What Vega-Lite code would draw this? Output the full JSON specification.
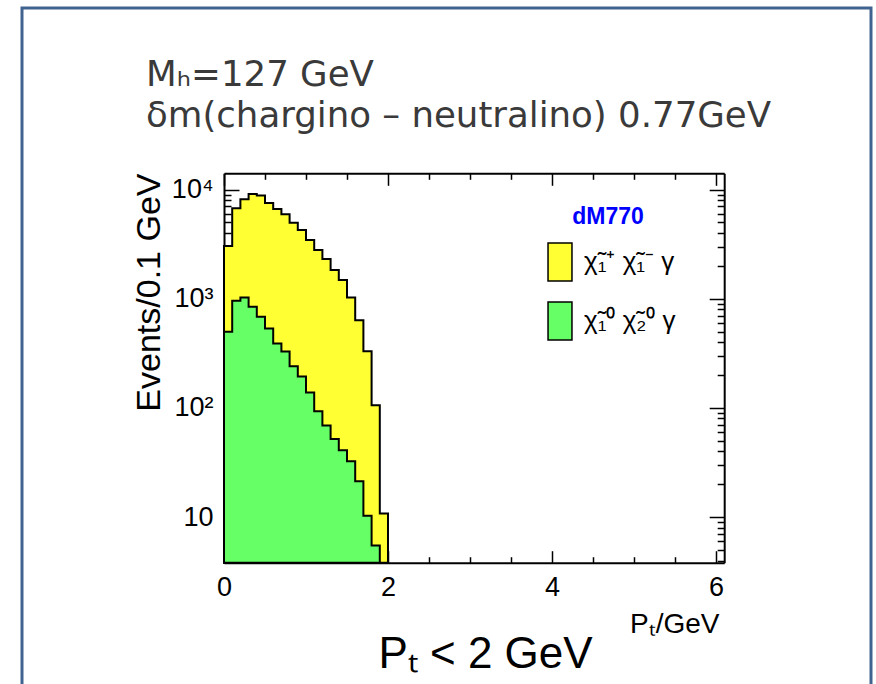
{
  "$schema": "https://vega.github.io/schema/vega-lite/v6.json",
  "width": 849,
  "height": 678,
  "autosize": "none",
  "padding": {"left": 22, "top": 8, "right": 5, "bottom": 0},
  "background": "white",
  "config": {
    "view": {"stroke": "#41638f", "strokeWidth": 3, "fill": "white"},
    "font": "Liberation Sans",
    "axis": {"grid": false, "labelFlush": false, "labelOverlap": false, "zindex": 1, "tickColor": "black", "tickWidth": 1.5, "domainColor": "black", "domainWidth": 2, "labelColor": "black", "titleColor": "black", "labelFont": "Liberation Sans", "titleFont": "Liberation Sans", "titleFontWeight": "normal", "labelFontSize": 27}
  },
  "title": {
    "text": ["Mₕ=127 GeV", "δm(chargino – neutralino) 0.77GeV"],
    "anchor": "start", "frame": "group", "orient": "top",
    "dx": 124, "offset": -155, "baseline": "alphabetic",
    "font": "DejaVu Sans", "fontSize": 35.6, "fontWeight": "normal", "color": "#3a3a3a", "lineHeight": 41
  },
  "datasets": {
    "hist": [
      {"s": "c", "proc": "χ̃₁⁺ χ̃₁⁻ γ", "lo": 0.0, "hi": 0.1, "v": 3034},
      {"s": "c", "proc": "χ̃₁⁺ χ̃₁⁻ γ", "lo": 0.1, "hi": 0.2, "v": 6723},
      {"s": "c", "proc": "χ̃₁⁺ χ̃₁⁻ γ", "lo": 0.2, "hi": 0.3, "v": 8130},
      {"s": "c", "proc": "χ̃₁⁺ χ̃₁⁻ γ", "lo": 0.3, "hi": 0.4, "v": 9093},
      {"s": "c", "proc": "χ̃₁⁺ χ̃₁⁻ γ", "lo": 0.4, "hi": 0.5, "v": 8810},
      {"s": "c", "proc": "χ̃₁⁺ χ̃₁⁻ γ", "lo": 0.5, "hi": 0.6, "v": 7520},
      {"s": "c", "proc": "χ̃₁⁺ χ̃₁⁻ γ", "lo": 0.6, "hi": 0.7, "v": 6625},
      {"s": "c", "proc": "χ̃₁⁺ χ̃₁⁻ γ", "lo": 0.7, "hi": 0.8, "v": 5925},
      {"s": "c", "proc": "χ̃₁⁺ χ̃₁⁻ γ", "lo": 0.8, "hi": 0.9, "v": 4962},
      {"s": "c", "proc": "χ̃₁⁺ χ̃₁⁻ γ", "lo": 0.9, "hi": 1.0, "v": 4253},
      {"s": "c", "proc": "χ̃₁⁺ χ̃₁⁻ γ", "lo": 1.0, "hi": 1.1, "v": 3443},
      {"s": "c", "proc": "χ̃₁⁺ χ̃₁⁻ γ", "lo": 1.1, "hi": 1.2, "v": 2788},
      {"s": "c", "proc": "χ̃₁⁺ χ̃₁⁻ γ", "lo": 1.2, "hi": 1.3, "v": 2306},
      {"s": "c", "proc": "χ̃₁⁺ χ̃₁⁻ γ", "lo": 1.3, "hi": 1.4, "v": 1828},
      {"s": "c", "proc": "χ̃₁⁺ χ̃₁⁻ γ", "lo": 1.4, "hi": 1.5, "v": 1480},
      {"s": "c", "proc": "χ̃₁⁺ χ̃₁⁻ γ", "lo": 1.5, "hi": 1.6, "v": 1027},
      {"s": "c", "proc": "χ̃₁⁺ χ̃₁⁻ γ", "lo": 1.6, "hi": 1.7, "v": 636},
      {"s": "c", "proc": "χ̃₁⁺ χ̃₁⁻ γ", "lo": 1.7, "hi": 1.8, "v": 331},
      {"s": "c", "proc": "χ̃₁⁺ χ̃₁⁻ γ", "lo": 1.8, "hi": 1.9, "v": 106},
      {"s": "c", "proc": "χ̃₁⁺ χ̃₁⁻ γ", "lo": 1.9, "hi": 2.0, "v": 10.8},
      {"s": "n", "proc": "χ̃₁⁰ χ̃₂⁰ γ", "lo": 0.0, "hi": 0.1, "v": 497},
      {"s": "n", "proc": "χ̃₁⁰ χ̃₂⁰ γ", "lo": 0.1, "hi": 0.2, "v": 956},
      {"s": "n", "proc": "χ̃₁⁰ χ̃₂⁰ γ", "lo": 0.2, "hi": 0.3, "v": 1027},
      {"s": "n", "proc": "χ̃₁⁰ χ̃₂⁰ γ", "lo": 0.3, "hi": 0.4, "v": 846},
      {"s": "n", "proc": "χ̃₁⁰ χ̃₂⁰ γ", "lo": 0.4, "hi": 0.5, "v": 682},
      {"s": "n", "proc": "χ̃₁⁰ χ̃₂⁰ γ", "lo": 0.5, "hi": 0.6, "v": 534},
      {"s": "n", "proc": "χ̃₁⁰ χ̃₂⁰ γ", "lo": 0.6, "hi": 0.7, "v": 389},
      {"s": "n", "proc": "χ̃₁⁰ χ̃₂⁰ γ", "lo": 0.7, "hi": 0.8, "v": 329},
      {"s": "n", "proc": "χ̃₁⁰ χ̃₂⁰ γ", "lo": 0.8, "hi": 0.9, "v": 241},
      {"s": "n", "proc": "χ̃₁⁰ χ̃₂⁰ γ", "lo": 0.9, "hi": 1.0, "v": 194},
      {"s": "n", "proc": "χ̃₁⁰ χ̃₂⁰ γ", "lo": 1.0, "hi": 1.1, "v": 138},
      {"s": "n", "proc": "χ̃₁⁰ χ̃₂⁰ γ", "lo": 1.1, "hi": 1.2, "v": 93},
      {"s": "n", "proc": "χ̃₁⁰ χ̃₂⁰ γ", "lo": 1.2, "hi": 1.3, "v": 69},
      {"s": "n", "proc": "χ̃₁⁰ χ̃₂⁰ γ", "lo": 1.3, "hi": 1.4, "v": 52},
      {"s": "n", "proc": "χ̃₁⁰ χ̃₂⁰ γ", "lo": 1.4, "hi": 1.5, "v": 41},
      {"s": "n", "proc": "χ̃₁⁰ χ̃₂⁰ γ", "lo": 1.5, "hi": 1.6, "v": 32.4},
      {"s": "n", "proc": "χ̃₁⁰ χ̃₂⁰ γ", "lo": 1.6, "hi": 1.7, "v": 21.3},
      {"s": "n", "proc": "χ̃₁⁰ χ̃₂⁰ γ", "lo": 1.7, "hi": 1.8, "v": 10.3},
      {"s": "n", "proc": "χ̃₁⁰ χ̃₂⁰ γ", "lo": 1.8, "hi": 1.9, "v": 5.5}
    ]
  },
  "data": {"name": "hist"},
  "transform": [{"fold": ["lo", "hi"], "as": ["edge", "x"]}],
  "layer": [
    {
      "transform": [{"filter": "datum.s == 'c'"}],
      "mark": {"type": "area", "stroke": "black", "strokeWidth": 2, "opacity": 1, "interpolate": "linear"},
      "encoding": {
        "x": {"field": "x", "type": "quantitative",
          "scale": {"type": "linear", "domain": [0, 6.1], "range": [202, 702.2], "nice": false, "zero": false},
          "axis": {"orient": "bottom", "offset": -123.3, "values": [0, 2, 4, 6], "format": "d", "tickSize": -12, "labelPadding": 24, "domain": true,
            "title": "Pₜ/GeV", "titleX": 697, "titleY": 70, "titleAlign": "right", "titleBaseline": "alphabetic", "titleFontSize": 28}},
        "y": {"field": "v", "type": "quantitative",
          "scale": {"type": "log", "domain": [3.82, 14080], "range": [554.7, 165.3], "nice": false},
          "axis": {"orient": "left", "offset": -202, "values": [10, 100, 1000, 10000], "tickSize": -15, "labelPadding": 26, "domain": true,
            "labelExpr": "datum.value == 10 ? '10' : datum.value == 100 ? '10²' : datum.value == 1000 ? '10³' : '10⁴'",
            "title": "Events/0.1 GeV", "titleX": -65, "titleY": 165, "titleAlign": "right", "titleBaseline": "alphabetic", "titleAngle": -90, "titleFontSize": 34}},
        "y2": {"datum": 3.82},
        "color": {"field": "proc", "type": "nominal",
          "scale": {"domain": ["χ̃₁⁺ χ̃₁⁻ γ", "χ̃₁⁰ χ̃₂⁰ γ"], "range": ["#ffff33", "#66ff66"]},
          "legend": {"orient": "none", "legendX": 518, "legendY": 198, "title": "dM770", "titleColor": "#0000ff", "titleFont": "Liberation Sans", "titleFontSize": 23, "titleFontWeight": "bold", "titleAnchor": "middle", "titlePadding": 13,
            "symbolType": "M-0.63,-1H0.63V1H-0.63Z", "symbolSize": 1444, "symbolStrokeColor": "black", "symbolStrokeWidth": 1.5, "symbolOpacity": 1,
            "labelFont": "Liberation Sans", "labelFontSize": 26, "labelColor": "black", "labelOffset": 4, "rowPadding": 15, "padding": 0, "labelLimit": 300}}
      }
    },
    {
      "transform": [{"filter": "datum.s == 'n'"}],
      "mark": {"type": "area", "stroke": "black", "strokeWidth": 2, "opacity": 1, "interpolate": "linear"},
      "encoding": {
        "x": {"field": "x", "type": "quantitative",
          "scale": {"type": "linear", "domain": [0, 6.1], "range": [202, 702.2], "nice": false, "zero": false},
          "axis": {"orient": "bottom", "offset": -123.3, "values": [0.5, 1, 1.5, 2.5, 3, 3.5, 4.5, 5, 5.5], "tickSize": -6, "labels": false, "domain": false,
            "title": "Pₜ < 2 GeV", "titleX": 463, "titleY": 105, "titleAlign": "center", "titleBaseline": "alphabetic", "titleFontSize": 44}},
        "y": {"field": "v", "type": "quantitative",
          "scale": {"type": "log", "domain": [3.82, 14080], "range": [554.7, 165.3], "nice": false},
          "axis": {"orient": "left", "offset": -202, "values": [4, 5, 6, 7, 8, 9, 20, 30, 40, 50, 60, 70, 80, 90, 200, 300, 400, 500, 600, 700, 800, 900, 2000, 3000, 4000, 5000, 6000, 7000, 8000, 9000], "tickSize": -7, "labels": false, "domain": false, "title": null}},
        "y2": {"datum": 3.82},
        "color": {"field": "proc", "type": "nominal"}
      }
    },
    {
      "mark": {"type": "point", "opacity": 0},
      "encoding": {
        "x": {"field": "x", "type": "quantitative",
          "scale": {"type": "linear", "domain": [0, 6.1], "range": [202, 702.2], "nice": false, "zero": false},
          "axis": {"orient": "top", "offset": -165.3, "values": [0, 2, 4, 6], "tickSize": -12, "labels": false, "domain": true, "title": null}},
        "y": {"field": "v", "type": "quantitative",
          "scale": {"type": "log", "domain": [3.82, 14080], "range": [554.7, 165.3], "nice": false},
          "axis": {"orient": "right", "offset": -146.8, "values": [10, 100, 1000, 10000], "tickSize": -15, "labels": false, "domain": true, "title": null}}
      }
    },
    {
      "mark": {"type": "point", "opacity": 0},
      "encoding": {
        "x": {"field": "x", "type": "quantitative",
          "scale": {"type": "linear", "domain": [0, 6.1], "range": [202, 702.2], "nice": false, "zero": false},
          "axis": {"orient": "top", "offset": -165.3, "values": [0.5, 1, 1.5, 2.5, 3, 3.5, 4.5, 5, 5.5], "tickSize": -6, "labels": false, "domain": false, "title": null}},
        "y": {"field": "v", "type": "quantitative",
          "scale": {"type": "log", "domain": [3.82, 14080], "range": [554.7, 165.3], "nice": false},
          "axis": {"orient": "right", "offset": -146.8, "values": [4, 5, 6, 7, 8, 9, 20, 30, 40, 50, 60, 70, 80, 90, 200, 300, 400, 500, 600, 700, 800, 900, 2000, 3000, 4000, 5000, 6000, 7000, 8000, 9000], "tickSize": -7, "labels": false, "domain": false, "title": null}}
      }
    }
  ],
  "resolve": {"axis": {"x": "independent", "y": "independent"}}
}
